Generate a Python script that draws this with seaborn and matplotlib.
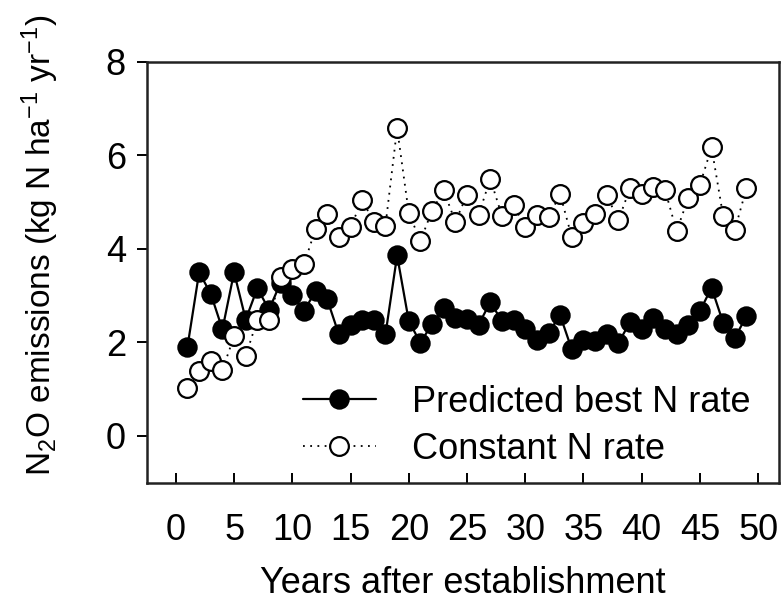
import matplotlib
matplotlib.use("Agg")
import matplotlib.pyplot as plt
import seaborn as sns
import pandas as pd

years = list(range(1, 50))

predicted_best = [1.91, 3.50, 3.04, 2.28, 3.50, 2.49, 3.16, 2.70, 3.28, 3.01,
                  2.67, 3.10, 2.92, 2.17, 2.38, 2.49, 2.49, 2.17, 3.86, 2.46,
                  1.99, 2.40, 2.74, 2.53, 2.51, 2.38, 2.86, 2.46, 2.48, 2.28,
                  2.06, 2.21, 2.58, 1.85, 2.06, 2.04, 2.17, 1.99, 2.43, 2.28,
                  2.53, 2.28, 2.17, 2.38, 2.67, 3.17, 2.42, 2.10, 2.56]

constant_rate = [1.03, 1.39, 1.60, 1.41, 2.13, 1.71, 2.49, 2.47, 3.41, 3.57,
                 3.67, 4.43, 4.75, 4.26, 4.46, 5.05, 4.57, 4.50, 6.58, 4.77,
                 4.17, 4.82, 5.25, 4.58, 5.16, 4.73, 5.50, 4.71, 4.93, 4.47,
                 4.73, 4.68, 5.17, 4.25, 4.56, 4.75, 5.15, 4.61, 5.30, 5.17,
                 5.32, 5.27, 4.38, 5.09, 5.37, 6.17, 4.70, 4.41, 5.30]

series_names = ["Predicted best N rate", "Constant N rate"]
x_ticks = [0, 5, 10, 15, 20, 25, 30, 35, 40, 45, 50]
y_ticks = [0, 2, 4, 6, 8]

sns.set_style("ticks")
plt.rcParams["font.family"] = ["Liberation Sans", "DejaVu Sans"]
plt.rcParams["mathtext.fontset"] = "custom"
plt.rcParams["mathtext.rm"] = "Liberation Sans"
plt.rcParams["mathtext.it"] = "Liberation Sans"
plt.rcParams["text.color"] = "black"
plt.rcParams["axes.labelcolor"] = "black"

df_best = pd.DataFrame({"year": years, "n2o": predicted_best})
df_const = pd.DataFrame({"year": years, "n2o": constant_rate})

fig = plt.figure(figsize=(7.83, 6.07), dpi=100)
ax = fig.add_axes([0.1874, 0.2048, 0.8076, 0.6932])

sns.lineplot(data=df_best, x="year", y="n2o", ax=ax, color="black",
             linestyle="-", linewidth=1.6, marker="o", markersize=13.5,
             markerfacecolor="black", markeredgecolor="black",
             markeredgewidth=1.2, label=series_names[0])
sns.lineplot(data=df_const, x="year", y="n2o", ax=ax, color="black",
             linestyle=(0, (1, 3)), linewidth=1.3, marker="o", markersize=13.5,
             markerfacecolor="white", markeredgecolor="black",
             markeredgewidth=1.6, label=series_names[1])

ax.set_xlim(-2.5, 51.8)
ax.set_ylim(-1, 8)
ax.set_xticks(x_ticks)
ax.set_yticks(y_ticks)

for side in ["top", "right", "bottom", "left"]:
    ax.spines[side].set_visible(True)
    ax.spines[side].set_linewidth(1.8)
    ax.spines[side].set_color("#222222")

ax.tick_params(axis="x", direction="in", length=7, width=1.4,
               labelsize=26, pad=22, colors="black")
ax.tick_params(axis="y", direction="out", length=7, width=1.4,
               labelsize=26, pad=8, colors="black")

ax.set_xlabel("Years after establishment", fontsize=26, labelpad=13)
ax.set_ylabel(r"N$_2$O emissions (kg N ha$^{-1}$ yr$^{-1}$)", fontsize=24)
ax.yaxis.set_label_coords(-0.136, 0.565)

leg = ax.legend(loc="center", bbox_to_anchor=(0.601, 0.135), frameon=False,
                fontsize=26, handlelength=2.0, handletextpad=1.0,
                labelspacing=0.33)

fig.savefig("out.png", dpi=100)
